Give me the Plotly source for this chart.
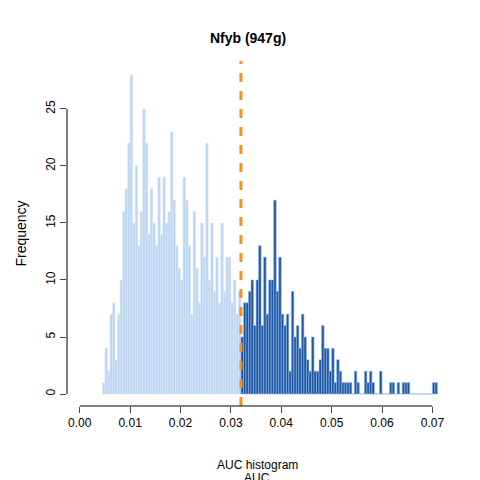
import plotly.graph_objects as go

bin_width = 0.0005
start = 0.0045
threshold = 0.032
light_counts = [1,4,2,7,8,3,7,10,16,18,22,28,15,20,13,16,25,22,14,18,15,13,19,14,19,15,16,23,17,
                13,11,10,19,17,13,7,16,11,8,15,12,22,10,15,9,12,8,15,9,12,12,8,10,7,9]
dark_counts = [5,8,8,9,10,6,10,13,6,12,7,10,10,17,9,12,7,6,7,2,9,5,6,4,7,5,
               3,2,5,2,2,3,6,4,4,2,4,1,3,2,1,1,1,1,0,2,1,0,0,2,1,2,1,0,0,2,0,0,0,1,1,0,1,0,1,1,1,
               0,0,0,0,0,0,0,0,0,1,1]
xticks = [0.00,0.01,0.02,0.03,0.04,0.05,0.06,0.07]
yticks = [0,5,10,15,20,25]

lx = [start + bin_width*(i+0.5) for i in range(len(light_counts))]
dx = [threshold + bin_width*(i+0.5) for i in range(len(dark_counts))]

fig = go.Figure()
fig.add_bar(x=lx, y=light_counts, width=bin_width,
            marker=dict(color="#bcd5f3", line=dict(color="#dce9f9", width=0.6)))
fig.add_bar(x=dx, y=dark_counts, width=bin_width,
            marker=dict(color="#1f57a4", line=dict(color="#8fb3e3", width=0.6)))
fig.add_shape(type="line", x0=threshold, x1=threshold, y0=0, y1=1, xref="x", yref="paper",
              line=dict(color="#f7901e", width=3, dash="dash"))
fig.add_shape(type="line", x0=0, x1=0.07, y0=0, y1=0, xref="x", yref="paper",
              line=dict(color="black", width=1))
fig.add_shape(type="line", x0=0, x1=0, y0=0, y1=25, xref="paper", yref="y",
              line=dict(color="black", width=1))

fig.update_layout(
    width=480, height=480, showlegend=False, barmode="overlay",
    plot_bgcolor="white", paper_bgcolor="white",
    margin=dict(l=52, r=41, t=53, b=82),
    font=dict(family="Liberation Sans, Arial", size=12, color="black"),
    title=dict(text="<b>Nfyb (947g)</b>", x=0.5, xanchor="center", y=0.937, yanchor="middle",
               font=dict(size=14)),
    annotations=[
        dict(text="AUC histogram", x=0.5, xref="paper", y=-0.17, yref="paper", showarrow=False,
             xanchor="center", yanchor="middle"),
        dict(text="AUC", x=0.5, xref="paper", y=-0.21, yref="paper", showarrow=False,
             xanchor="center", yanchor="middle"),
    ],
)
fig.update_xaxes(range=[-0.00253, 0.0729], tickvals=xticks, ticktext=[f"{v:.2f}" for v in xticks],
                 ticks="outside", ticklen=6, showgrid=False, zeroline=False, showline=False)
fig.update_yaxes(range=[-1.05, 29.2], tickvals=yticks, ticks="outside", ticklen=6, tickangle=-90,
                 showgrid=False, zeroline=False, showline=False,
                 title=dict(text="Frequency", standoff=14))
fig.write_html("out.html")
